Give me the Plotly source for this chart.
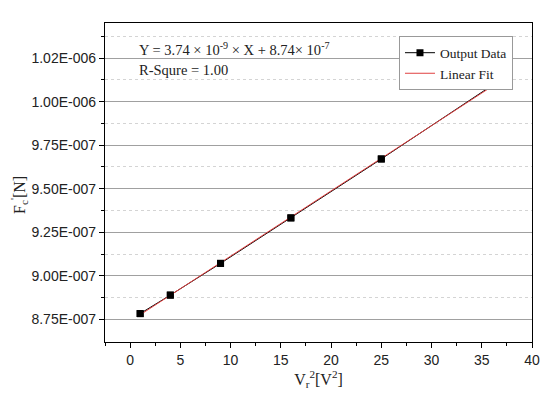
import plotly.graph_objects as go

# ---- data ----
x_vals = [1, 4, 9, 16, 25, 36]
y_vals = [8.784e-7, 8.89e-7, 9.072e-7, 9.333e-7, 9.671e-7, 1.0092e-6]
fit_x = [1, 36]
fit_y = [8.777e-7, 1.00864e-6]
y_tickvals = [8.75e-7, 9.00e-7, 9.25e-7, 9.50e-7, 9.75e-7, 1.00e-6, 1.025e-6]
y_ticktext = ["8.75E-007", "9.00E-007", "9.25E-007", "9.50E-007", "9.75E-007", "1.00E-006", "1.02E-006"]
y_minorvals = [8.875e-7, 9.125e-7, 9.375e-7, 9.625e-7, 9.875e-7, 1.0125e-6, 1.0375e-6]
x_tickvals = [0, 5, 10, 15, 20, 25, 30, 35, 40]

serif = "Liberation Serif, Times New Roman, serif"
sans = "Liberation Sans, Arial, sans-serif"

# page body has an 8px default margin; compensate so the plot lands where intended
OFF = 8
PL, PR, PT, PB = 105, 531.7, 23.3, 341.7   # intended plot-area edges in window pixels
W, H = 550, 398
pw, ph = PR - PL, PB - PT


def px(x):
    return (x - PL) / pw


def py(y):
    return (PB - y) / ph


fig = go.Figure()
fig.add_trace(go.Scatter(x=x_vals, y=y_vals, mode="lines+markers", name="Output Data",
                         line=dict(color="black", width=1),
                         marker=dict(symbol="square", size=7, color="black")))
fig.add_trace(go.Scatter(x=fit_x, y=fit_y, mode="lines", name="Linear Fit",
                         line=dict(color="#e04040", width=1)))
fig.add_trace(go.Scatter(x=x_vals, y=y_vals, mode="markers", showlegend=False,
                         marker=dict(symbol="square", size=7, color="black")))

fig.update_layout(
    width=W, height=H,
    margin=dict(l=PL - OFF, r=W - PR + OFF, t=PT - OFF, b=H - PB + OFF, autoexpand=False),
    paper_bgcolor="white", plot_bgcolor="white",
    showlegend=True,
    legend=dict(x=px(512.7), y=py(36.7), xanchor="right", yanchor="top",
                bgcolor="white", bordercolor="#999999", borderwidth=1,
                font=dict(family=serif, size=13.5, color="#222"),
                itemwidth=30, tracegroupgap=0),
    xaxis=dict(range=[-2.5, 40], tickvals=x_tickvals, ticks="outside", ticklen=5,
               tickwidth=1, tickcolor="black", showgrid=False, zeroline=False,
               showline=True, linecolor="black", linewidth=1.3, mirror=True,
               tickfont=dict(family=sans, size=14, color="#222"),
               minor=dict(dtick=2.5, ticks="outside", ticklen=3, tickcolor="black"),
               title=dict(text="V<sub>r</sub><sup>2</sup>[V<sup>2</sup>]", standoff=5,
                          font=dict(family=serif, size=16, color="#222"))),
    yaxis=dict(range=[8.621e-7, 1.0451e-6], tickvals=y_tickvals, ticktext=y_ticktext,
               ticks="outside", ticklen=5, tickwidth=1, tickcolor="black",
               showgrid=True, gridcolor="#a0a0a0", gridwidth=1, zeroline=False,
               showline=True, linecolor="black", linewidth=1.3, mirror=True,
               tickfont=dict(family=sans, size=14, color="#222"),
               minor=dict(tickvals=y_minorvals,
                          ticks="outside", ticklen=3, tickcolor="black",
                          showgrid=True, gridcolor="#d4d4d4", griddash="dot", gridwidth=1)),
    annotations=[
        dict(xref="paper", yref="paper", x=px(19), y=py(195), text="F<sub>c</sub><sup>'</sup>[N]",
             textangle=-90, showarrow=False, font=dict(family=serif, size=16, color="#222"),
             xanchor="center", yanchor="middle"),
        dict(xref="paper", yref="paper", x=px(136.7), y=py(49),
             text="Y = 3.74 × 10<sup>-9</sup> × X + 8.74× 10<sup>-7</sup>",
             showarrow=False, xanchor="left", yanchor="middle",
             font=dict(family=serif, size=14.5, color="#222")),
        dict(xref="paper", yref="paper", x=px(136.7), y=py(70),
             text="R-Squre = 1.00", showarrow=False, xanchor="left", yanchor="middle",
             font=dict(family=serif, size=14.5, color="#222")),
    ],
)

fig.write_html("out.html")
